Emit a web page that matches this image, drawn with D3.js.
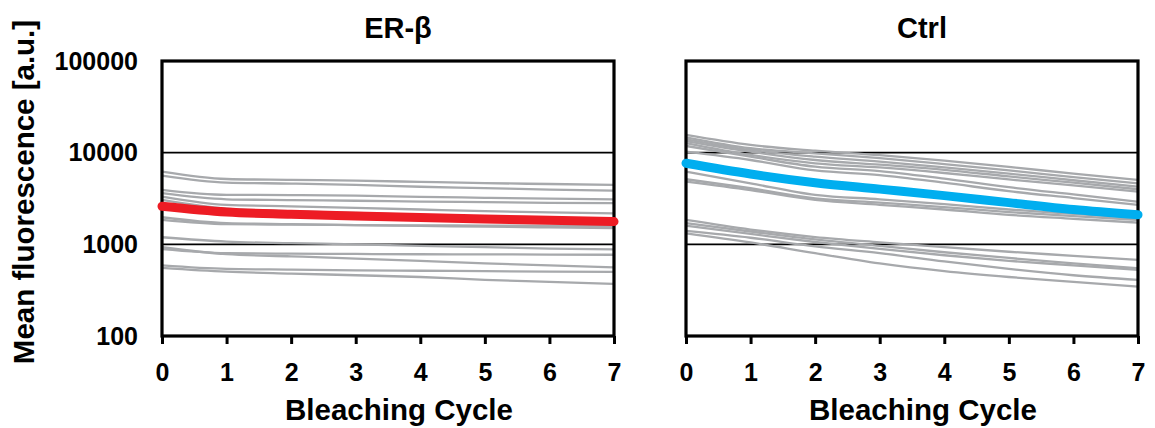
<!DOCTYPE html>
<html>
<head>
<meta charset="utf-8">
<script src="https://cdn.jsdelivr.net/npm/d3@7"></script>
<style>
  body { margin: 0; background: #fff; }
  text { font-family: "Liberation Sans", Arial, Helvetica, sans-serif; font-weight: bold; fill: #000; }
</style>
</head>
<body>
<script>
var width = 1155;
var height = 428;

var cycles = [0, 1, 2, 3, 4, 5, 6, 7];
var yTicks = [100, 1000, 10000, 100000];
var panelTitles = ["ER-β", "Ctrl"];

// single cells, ER-beta
var erbTraces = [
  [6210, 5160, 5050, 4950, 4800, 4650, 4550, 4450],
  [5610, 4710, 4600, 4450, 4250, 4100, 3950, 3850],
  [3920, 3460, 3450, 3400, 3300, 3220, 3150, 3100],
  [3610, 3100, 3040, 2990, 2930, 2880, 2840, 2810],
  [3310, 2690, 2600, 2500, 2400, 2300, 2230, 2180],
  [3050, 2450, 2300, 2200, 2100, 2000, 1920, 1850],
  [1975, 1700, 1660, 1620, 1590, 1560, 1530, 1500],
  [1850, 1660, 1640, 1620, 1610, 1600, 1595, 1590],
  [1195, 1070, 1030, 1000, 960, 930, 900, 880],
  [929, 780, 740, 700, 660, 620, 590, 560],
  [885, 800, 790, 785, 780, 777, 773, 770],
  [590, 540, 530, 520, 515, 510, 505, 500],
  [555, 504, 480, 460, 440, 410, 390, 370]
];
var erbMean = [2600, 2250, 2130, 2040, 1960, 1890, 1830, 1770];

// single cells, control
var ctrlTraces = [
  [15600, 12130, 10500, 9400, 8200, 7000, 5900, 5040],
  [14700, 11170, 9840, 8700, 7500, 6400, 5400, 4630],
  [14000, 10700, 9040, 8000, 6900, 5900, 5000, 4260],
  [13400, 10250, 8320, 7400, 6500, 5500, 4700, 3990],
  [12700, 9440, 7660, 6900, 6000, 5100, 4400, 3760],
  [11840, 9040, 7030, 6300, 5200, 4200, 3500, 2920],
  [10250, 8320, 6400, 5700, 4700, 3800, 3200, 2690],
  [6210, 4630, 3460, 3100, 2750, 2400, 2150, 1930],
  [5130, 4090, 3180, 2850, 2550, 2250, 2030, 1850],
  [4830, 3900, 3050, 2700, 2400, 2100, 1900, 1725],
  [1845, 1450, 1200, 1050, 930, 830, 750, 676],
  [1700, 1380, 1130, 960, 820, 710, 620, 548],
  [1600, 1300, 1060, 890, 760, 660, 590, 526],
  [1400, 1180, 950, 800, 650, 540, 460, 409],
  [1320, 1050, 800, 620, 510, 440, 390, 346]
];
var ctrlMean = [7660, 5850, 4700, 4000, 3400, 2850, 2400, 2100];

var panels = [
  { left: 162, traces: erbTraces, mean: erbMean, color: "#ed1c24", title: panelTitles[0], yLabels: true },
  { left: 686, traces: ctrlTraces, mean: ctrlMean, color: "#00aeef", title: panelTitles[1], yLabels: false }
];
var plotW = 452, plotTop = 61, plotBottom = 336;

var svg = d3.select("body").append("svg")
    .attr("width", width)
    .attr("height", height);

var y = d3.scaleLog().domain([100, 100000]).range([plotBottom, plotTop]);

panels.forEach(function(p) {
  var x = d3.scaleLinear().domain([0, 7]).range([p.left, p.left + plotW]);
  var g = svg.append("g");
  var line = d3.line()
      .x(function(d, i) { return x(cycles[i]); })
      .y(function(d) { return y(d); })
      .curve(d3.curveMonotoneX);

  // grid lines at 1000 and 10000
  g.selectAll("line.grid")
    .data([1000, 10000])
    .enter().append("line")
    .attr("x1", x(0)).attr("x2", x(7))
    .attr("y1", function(d) { return y(d); })
    .attr("y2", function(d) { return y(d); })
    .attr("stroke", "#000")
    .attr("stroke-width", 1.6);

  g.selectAll("path.trace")
    .data(p.traces)
    .enter().append("path")
    .attr("class", "trace")
    .attr("d", line)
    .attr("fill", "none")
    .attr("stroke", "#a7a9ac")
    .attr("stroke-width", 2.3);

  // x axis with ticks pointing down
  var xAxis = g.append("g")
    .attr("transform", "translate(0," + plotBottom + ")")
    .call(d3.axisBottom(x).tickValues(cycles).tickSize(8).tickPadding(19).tickFormat(d3.format("d")));
  xAxis.select(".domain").remove();
  xAxis.selectAll(".tick line").attr("stroke", "#000").attr("stroke-width", 3);
  xAxis.selectAll(".tick text").style("font-size", "25px").attr("dy", "0.71em");

  if (p.yLabels) {
    var yAxis = g.append("g")
      .attr("transform", "translate(" + p.left + ",0)")
      .call(d3.axisLeft(y).tickValues(yTicks).tickSize(0).tickPadding(24).tickFormat(d3.format("d")));
    yAxis.select(".domain").remove();
    yAxis.selectAll(".tick text").style("font-size", "25px");
  }

  // frame
  g.append("rect")
    .attr("x", x(0)).attr("y", plotTop)
    .attr("width", plotW).attr("height", plotBottom - plotTop)
    .attr("fill", "none")
    .attr("stroke", "#000")
    .attr("stroke-width", 3.2);

  g.append("path")
    .datum(p.mean)
    .attr("d", line)
    .attr("fill", "none")
    .attr("stroke", p.color)
    .attr("stroke-width", 9)
    .attr("stroke-linecap", "round");

  g.append("text")
    .attr("x", p.left + plotW / 2 + 10)
    .attr("y", 38)
    .attr("text-anchor", "middle")
    .style("font-size", "29px")
    .text(p.title);

  g.append("text")
    .attr("x", p.left + plotW / 2 + 11)
    .attr("y", 420)
    .attr("text-anchor", "middle")
    .style("font-size", "29.5px")
    .text("Bleaching Cycle");
});

svg.append("text")
  .attr("transform", "translate(34,192) rotate(-90)")
  .attr("text-anchor", "middle")
  .style("font-size", "29.5px")
  .text("Mean fluorescence [a.u.]");
</script>
</body>
</html>
